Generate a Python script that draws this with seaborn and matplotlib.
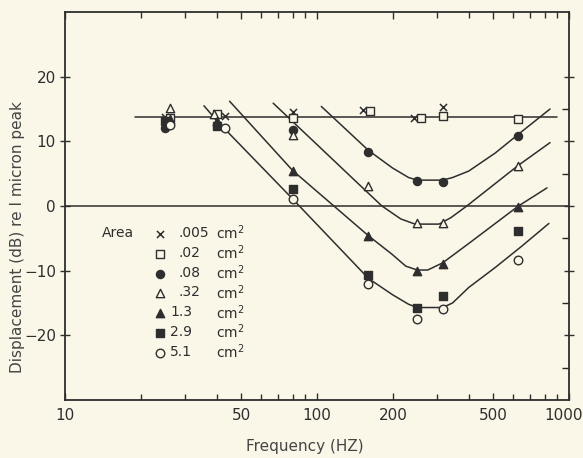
import matplotlib
matplotlib.use("Agg")
import matplotlib.pyplot as plt
import matplotlib.transforms as mtransforms
import seaborn as sns
from matplotlib.ticker import FixedLocator, NullFormatter, FixedFormatter

# ---------------- data ----------------
area_labels = [".005", ".02", ".08", ".32", "1.3", "2.9", "5.1"]

freq_005 = [25, 43, 80, 152, 243, 315]
disp_005 = [13.8, 13.9, 14.6, 14.8, 13.6, 15.3]
freq_02 = [26, 40, 80, 162, 258, 315, 630]
disp_02 = [13.6, 14.3, 13.6, 14.7, 13.6, 13.9, 13.5]
freq_08 = [25, 40, 80, 160, 250, 315, 630]
disp_08 = [12.0, 12.6, 11.8, 8.4, 3.8, 3.7, 10.8]
freq_32 = [26, 39, 80, 160, 250, 315, 630]
disp_32 = [15.2, 14.3, 11.0, 3.1, -2.6, -2.6, 6.2]
freq_13 = [26, 40, 80, 160, 250, 315, 630]
disp_13 = [13.5, 13.2, 5.4, -4.7, -10.0, -9.0, -0.2]
freq_29 = [25, 40, 80, 160, 250, 315, 630]
disp_29 = [13.2, 12.4, 2.7, -10.7, -15.7, -13.9, -3.9]
freq_51 = [26, 43, 80, 160, 250, 315, 630]
disp_51 = [12.5, 12.0, 1.1, -12.0, -17.4, -16.0, -8.3]

# hand-drawn fitted curves
flat_f = [19, 900]
flat_v = [13.8, 13.8]
curve_08_f = [104, 160, 199, 231, 250, 315, 345, 400, 510, 630, 841]
curve_08_v = [15.4, 8.6, 5.9, 4.4, 4.0, 4.0, 4.4, 5.4, 8.2, 11.1, 15.0]
curve_32_f = [67, 100, 140, 181, 215, 245, 305, 340, 393, 630, 841]
curve_32_v = [15.9, 9.5, 4.1, 0.0, -2.0, -2.8, -2.8, -1.8, 0.0, 6.3, 9.8]
curve_13_f = [45, 80, 160, 199, 225, 250, 275, 315, 400, 630, 818]
curve_13_v = [16.2, 5.5, -4.6, -7.5, -9.3, -9.9, -9.9, -8.8, -5.8, 0.0, 2.8]
curve_51_f = [35.6, 40, 80, 160, 199, 231, 250, 315, 345, 400, 510, 650, 832]
curve_51_v = [15.5, 13.2, 1.1, -11.2, -13.7, -15.2, -15.7, -15.7, -15.0, -12.6, -9.5, -6.2, -2.7]

x_ticks = [10, 50, 100, 200, 500, 1000]
x_tick_labels = ["10", "50", "100", "200", "500", "1000"]
x_minor = [20, 30, 40, 60, 70, 80, 90, 300, 400, 600, 700, 800, 900]
y_ticks = [-20, -10, 0, 10, 20]
y_minor = [-25, -15, -5, 5, 15]

# ---------------- style ----------------
paper = "#faf7e8"
ink = "#2e2e2e"

sns.set_theme(style="ticks")
plt.rcParams["font.family"] = ["DejaVu Sans"]

fig = plt.figure(figsize=(5.83, 4.58), dpi=100, facecolor=paper)
ax = fig.add_axes([65 / 583, 1 - 400 / 458, 504 / 583, 388 / 458])
ax.set_facecolor(paper)

# curves
ax.axhline(0, color=ink, lw=1.1, zorder=1)
for cf, cv in [(flat_f, flat_v), (curve_08_f, curve_08_v), (curve_32_f, curve_32_v),
               (curve_13_f, curve_13_v), (curve_51_f, curve_51_v)]:
    sns.lineplot(x=cf, y=cv, ax=ax, color=ink, lw=1.1, estimator=None, sort=False, zorder=2)

# data points
styles = [
    (freq_005, disp_005, dict(marker="x", color=ink, linewidths=1.1, s=26)),
    (freq_02, disp_02, dict(marker="s", facecolor=paper, edgecolor=ink, linewidth=1.0, s=34)),
    (freq_08, disp_08, dict(marker="o", facecolor=ink, edgecolor=ink, linewidth=1.0, s=34)),
    (freq_32, disp_32, dict(marker="^", facecolor=paper, edgecolor=ink, linewidth=1.0, s=36)),
    (freq_13, disp_13, dict(marker="^", facecolor=ink, edgecolor=ink, linewidth=1.0, s=36)),
    (freq_29, disp_29, dict(marker="s", facecolor=ink, edgecolor=ink, linewidth=1.0, s=34)),
    (freq_51, disp_51, dict(marker="o", facecolor=paper, edgecolor=ink, linewidth=1.0, s=38)),
]
for f, d, kw in styles:
    sns.scatterplot(x=f, y=d, ax=ax, zorder=3, **kw)

# axes
ax.set_xscale("log")
ax.set_xlim(10, 1000)
ax.set_ylim(-30, 30)
ax.xaxis.set_major_locator(FixedLocator(x_ticks))
ax.xaxis.set_major_formatter(FixedFormatter(x_tick_labels))
ax.xaxis.set_minor_locator(FixedLocator(x_minor))
ax.xaxis.set_minor_formatter(NullFormatter())
ax.yaxis.set_major_locator(FixedLocator(y_ticks))
ax.yaxis.set_minor_locator(FixedLocator(y_minor))
ax.tick_params(axis="x", which="both", direction="in", top=True, bottom=True,
               colors=ink, labelsize=11, pad=6)
ax.tick_params(axis="x", which="major", length=5, width=1.0)
ax.tick_params(axis="x", which="minor", length=4, width=1.0)
ax.tick_params(axis="y", which="major", direction="inout", left=True, right=True,
               length=7, width=1.0, colors=ink, labelsize=11, pad=3)
ax.tick_params(axis="y", which="minor", direction="in", left=False, right=True,
               length=5, width=1.0)
for sp in ax.spines.values():
    sp.set_color(ink)
    sp.set_linewidth(1.3)
    sp.set_visible(True)

# keep the "1000" label inside the figure
fig.canvas.draw()
last = ax.get_xticklabels()[-1]
last.set_transform(last.get_transform() +
                   mtransforms.ScaledTranslation(-5 / 100, 0, fig.dpi_scale_trans))

# legend block (inside axes)
def axfx(px):
    return (px - 65) / 504

def axfy(py):
    return (400 - py) / 388

ax.text(axfx(102), axfy(233), "Area", transform=ax.transAxes, fontsize=10,
        color=ink, ha="left", va="center")
val_x = [179, 179, 179, 179, 170, 170, 170]
for i, (lab, (_, _, kw)) in enumerate(zip(area_labels, styles)):
    py = 233 + 19.8 * i
    ax.scatter([axfx(160)], [axfy(py + 1)], transform=ax.transAxes, zorder=4,
               clip_on=False, **kw)
    ax.text(axfx(val_x[i]), axfy(py), lab, transform=ax.transAxes, fontsize=10,
            color=ink, ha="left", va="center")
    ax.text(axfx(216), axfy(py), "cm$^2$", transform=ax.transAxes, fontsize=10,
            color=ink, ha="left", va="center")

ax.set_xlabel("")
ax.set_ylabel("")
fig.text(18 / 583, 1 - 237 / 458, "Displacement (dB) re I micron peak", rotation=90,
         ha="center", va="center", fontsize=11, color="#444444")
fig.text(305 / 583, 1 - 447 / 458, "Frequency (HZ)", ha="center", va="center",
         fontsize=11, color="#444444")

fig.savefig("out.png", dpi=100, facecolor=paper)
